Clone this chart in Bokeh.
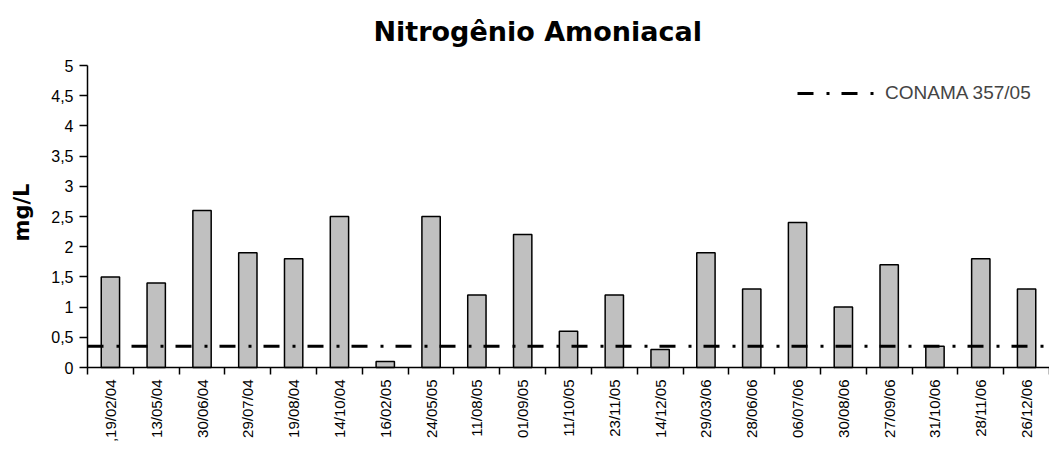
import numpy as np
from bokeh.plotting import figure
from bokeh.models import FixedTicker, Range1d, Legend, LegendItem, Label
from bokeh.embed import file_html
from bokeh.resources import INLINE

# ---- data ----
dates = [",19/02/04", "13/05/04", "30/06/04", "29/07/04", "19/08/04", "14/10/04",
         "16/02/05", "24/05/05", "11/08/05", "01/09/05", "11/10/05", "23/11/05",
         "14/12/05", "29/03/06", "28/06/06", "06/07/06", "30/08/06", "27/09/06",
         "31/10/06", "28/11/06", "26/12/06"]
values = [1.5, 1.4, 2.6, 1.9, 1.8, 2.5, 0.1, 2.5, 1.2, 2.2, 0.6, 1.2,
          0.3, 1.9, 1.3, 2.4, 1.0, 1.7, 0.35, 1.8, 1.3]
limit_label = "CONAMA 357/05"
limit_value = 0.35
y_ticks = [0, 0.5, 1, 1.5, 2, 2.5, 3, 3.5, 4, 4.5, 5]
y_tick_labels = ["0", "0,5", "1", "1,5", "2", "2,5", "3", "3,5", "4", "4,5", "5"]
title_text = "Nitrogênio Amoniacal"
y_title = "mg/L"

n = len(dates)
xs = np.arange(n) + 0.5
x_min, x_max = 0, n
y_min, y_max = 0, 5

# ---- layout (pixels) ----
W, H = 1049, 455
AXIS_LEFT = 87          # x pixel of the y axis line
AXIS_BOTTOM = 367       # y pixel of the x axis line
AXIS_TOP = 65           # y pixel of the value 5
cat_px = (W - AXIS_LEFT) / n
val_px = (AXIS_BOTTOM - AXIS_TOP) / (y_max - y_min)
x_start = x_min - AXIS_LEFT / cat_px
y_start = y_min - (H - AXIS_BOTTOM) / val_px
y_top = y_max + AXIS_TOP / val_px

# the frame covers the whole canvas; both axes are pinned inside it
p = figure(width=W, height=H, output_backend="svg", toolbar_location=None,
           x_range=Range1d(x_start, x_max), y_range=Range1d(y_start, y_top),
           min_border_left=0, min_border_right=0, min_border_top=0,
           min_border_bottom=0)
p.outline_line_color = None
p.xgrid.grid_line_color = None
p.ygrid.grid_line_color = None
p.background_fill_color = "white"
p.border_fill_color = "white"

p.vbar(x=xs, top=values, width=0.4, bottom=0, fill_color="#c0c0c0",
       line_color="black", line_width=1.5)

lim = p.line(x=[x_min, x_max], y=[limit_value, limit_value], line_color="black",
             line_width=3, line_dash="16 13 3 12")

legend = Legend(items=[LegendItem(label=limit_label, renderers=[lim])],
                location=(AXIS_LEFT + 710, H - AXIS_BOTTOM + 263),
                border_line_color=None, background_fill_alpha=0,
                glyph_width=77, glyph_height=20, label_standoff=11,
                label_text_font="Liberation Sans", label_text_font_size="19px",
                margin=0, padding=9)
p.add_layout(legend)

# y axis, pinned at the first category boundary
ya = p.yaxis[0]
ya.fixed_location = x_min
ya.bounds = (y_min, y_max)
ya.ticker = FixedTicker(ticks=y_ticks, minor_ticks=[])
ya.major_label_overrides = {float(t): s for t, s in zip(y_ticks, y_tick_labels)}
ya.major_label_text_font = "Liberation Sans"
ya.major_label_text_font_size = "16px"
ya.major_label_text_color = "black"
ya.major_tick_out = 8
ya.major_tick_in = 0
ya.major_tick_line_width = 1.5
ya.major_label_standoff = 6
ya.axis_line_width = 1.5

# x axis, pinned at value 0
xa = p.xaxis[0]
xa.fixed_location = y_min
xa.bounds = (x_min, x_max)
xa.ticker = FixedTicker(ticks=list(xs), minor_ticks=list(range(x_min, x_max + 1)))
xa.major_label_overrides = {float(x): d for x, d in zip(xs, dates)}
xa.major_label_orientation = np.pi / 2
xa.major_label_text_font = "Liberation Sans"
xa.major_label_text_font_size = "15px"
xa.major_label_text_color = "black"
xa.major_tick_line_color = None
xa.major_tick_out = 7
xa.major_tick_in = 0
xa.minor_tick_out = 7
xa.minor_tick_in = 0
xa.minor_tick_line_color = "black"
xa.minor_tick_line_width = 1.5
xa.major_label_standoff = 5
xa.axis_line_width = 1.5

# y axis title
p.add_layout(Label(x=21, y=H - 212, x_units="screen", y_units="screen",
                   text=y_title, angle=np.pi / 2, text_font="DejaVu Sans",
                   text_font_size="21px", text_font_style="bold", text_color="black",
                   text_align="center", text_baseline="middle"))

# chart title
p.add_layout(Label(x=373, y=H - 31, x_units="screen", y_units="screen",
                   text=title_text, text_font="DejaVu Sans", text_font_size="27px",
                   text_font_style="bold", text_color="black",
                   text_baseline="alphabetic", text_align="left"))

open("out.html", "w").write(file_html(p, INLINE))
